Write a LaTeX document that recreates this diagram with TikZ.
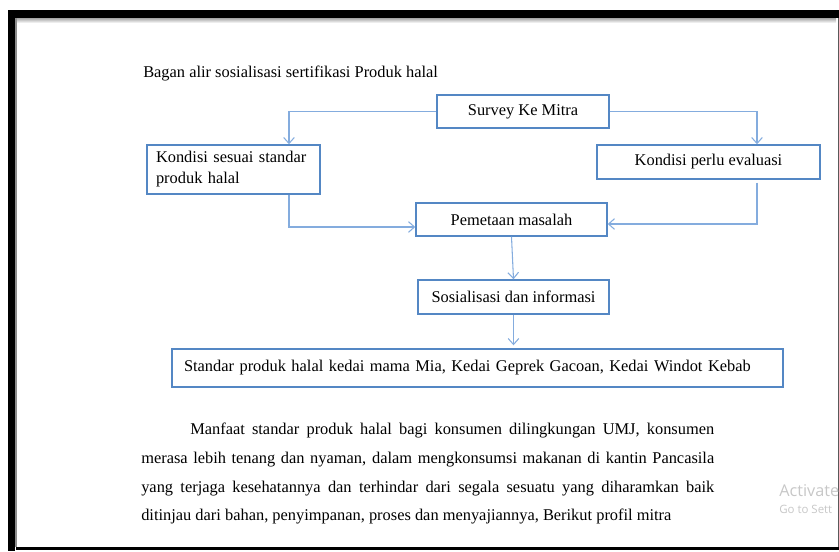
\documentclass[tikz,border=0pt]{standalone}
\usepackage{fontspec}
\setmainfont{Liberation Serif}
\newfontfamily\winfont{Open Sans}
\usetikzlibrary{arrows.meta,calc}
\definecolor{BoxBlue}{RGB}{84,135,196}
\definecolor{LineBlue}{RGB}{132,172,222}
\newlength\px
\setlength\px{0.75pt}

\begin{document}
\begin{tikzpicture}[
  x=0.75pt, y=-0.75pt,
  font=\fontsize{12.3}{15.75}\selectfont,
  box/.style={draw=BoxBlue, line width=1.1pt, fill=white, align=center,
    inner sep=0pt},
  lbox/.style={box, align=left},
  arr/.style={draw=LineBlue, line width=0.8pt,
    -{Straight Barb[length=4.5pt, width=8pt]}},
  para/.style={anchor=north west, inner sep=0pt, text width=573\px,
    align=justify, font=\fontsize{12.3}{21.5}\selectfont},
  wm/.style={anchor=base west, inner sep=0pt, text=black!22},
]
\useasboundingbox (0,0) rectangle (839,551);

% page frame
\fill[black] (8,10) rectangle (839,18);
\shade[top color=black!35, bottom color=white] (15,18) rectangle (836,23);
\fill[black] (8,10) rectangle (15,551);
\fill[black!45] (15,18) rectangle (17,547);
\fill[black!65] (837.5,18) rectangle (839,548);
\draw[black, line width=1.6pt] (16,548.5) -- (839,548.5);

\node[anchor=base west, inner sep=0pt] (judul) at (143,77)
  {Bagan alir sosialisasi sertifikasi Produk halal};

\node[box, minimum width=172\px, minimum height=33\px] (survey) at (523,111.5)
  {Survey Ke Mitra};
\node[lbox, inner xsep=9\px, text width=155\px, minimum height=49\px] (sesuai) at (233.5,169.5)
  {Kondisi sesuai standar\\produk halal};
\node[box, minimum width=223\px, minimum height=34\px] (evaluasi) at (708.5,162)
  {Kondisi perlu evaluasi};
\node[box, minimum width=191\px, minimum height=33\px] (pemetaan) at (511.5,219.5)
  {Pemetaan masalah};
\node[box, minimum width=191\px, minimum height=34\px] (sosialisasi) at (513.5,297)
  {Sosialisasi dan informasi};
\node[lbox, inner xsep=12\px, text width=587\px, minimum height=38\px] (standar) at (477.5,368)
  {Standar produk halal kedai mama Mia, Kedai Geprek Gacoan, Kedai Windot Kebab};

\coordinate (lcol) at (289,0);
\coordinate (rcol) at (757,0);
\coordinate (lrow) at (0,227);
\coordinate (rrow) at (0,224);

\draw[arr] (survey.west) -| (sesuai.north -| lcol);
\draw[arr] (survey.east) -| (evaluasi.north -| rcol);
\draw[arr] (sesuai.south -| lcol) |- (pemetaan.west |- lrow);
\draw[arr, shorten <=3\px] (evaluasi.south -| rcol) |- (pemetaan.east |- rrow);
\draw[arr] (pemetaan.south) -- (sosialisasi.north);
\draw[arr, shorten >=3\px] (sosialisasi.south) -- (standar.north -| sosialisasi.south);

\node[para] (manfaat) at (141,423)
  {\hspace*{49\px}Manfaat standar produk halal bagi konsumen dilingkungan UMJ, konsumen\linebreak
   merasa lebih tenang dan nyaman, dalam mengkonsumsi makanan di kantin Pancasila\linebreak
   yang terjaga kesehatannya dan terhindar dari segala sesuatu yang diharamkan baik\linebreak
   ditinjau dari bahan, penyimpanan, proses dan menyajiannya, Berikut profil mitra};

% watermark
\node[wm, font=\winfont\fontsize{12.2}{13}\selectfont] (aktif) at (779,496) {Activate};
\node[wm, font=\winfont\fontsize{8.6}{10}\selectfont] (setting) at (779,513) {Go to Sett};
\end{tikzpicture}
\end{document}
